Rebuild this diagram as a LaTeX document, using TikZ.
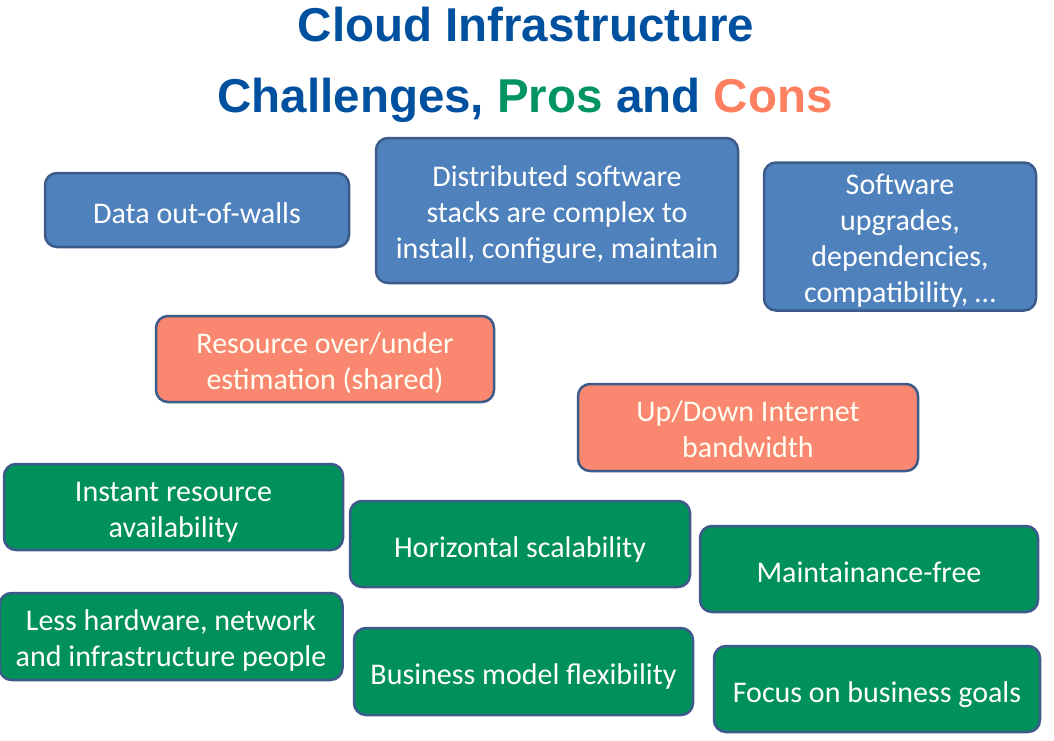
\documentclass[tikz,border=0pt]{standalone}
\usepackage{fontspec}
\setmainfont{Carlito}
\newfontfamily\titlefont{Liberation Sans}
\usetikzlibrary{
    shapes
  , positioning
}

\definecolor{boxBlue}{HTML}{4F81BD}
\definecolor{boxRed}{HTML}{FA8770}
\definecolor{boxGreen}{HTML}{00915B}
\definecolor{boxLine}{HTML}{3C5A8A}
\definecolor{titleBlue}{HTML}{0050A0}
\definecolor{titleGreen}{HTML}{009560}
\definecolor{titleRed}{HTML}{FF8060}

% struts that fix where the text sits in a card
\newcommand{\cardtop}[1][32]{\rule{0pt}{#1pt}}
\newcommand{\cardbot}{\rule[-8pt]{0pt}{8pt}}

\tikzset{
  card/.style={draw=boxLine, line width=2.5pt, rounded corners=12pt, rectangle,
    text=white, align=center, inner sep=0pt,
    font=\fontsize{30}{36}\selectfont},
  challenge/.style={card, fill=boxBlue},
  con/.style={card, fill=boxRed, text=white!95!yellow},
  pro/.style={card, fill=boxGreen},
  heading/.style={anchor=base, font=\titlefont\bfseries\fontsize{47.5}{55}\selectfont}
}

\begin{document}
\begin{tikzpicture}[x=1pt, y=-1pt]
  \useasboundingbox (0,0) rectangle (1054,741);
  % Title
  \node[heading, text=titleBlue] (title) at (526,42) {Cloud Infrastructure};
  \node[heading] (subtitle) at (525,113) {\textcolor{titleBlue}{Challenges,} \textcolor{titleGreen}{Pros} \textcolor{titleBlue}{and} \textcolor{titleRed}{Cons}};
  % Challenges
  \node[challenge, minimum width=304pt, minimum height=74pt] (data) at (197,210) {\cardtop[34]Data out-of-walls\cardbot};
  \node[challenge, minimum width=362pt, minimum height=145pt] (stacks) at (557,210.5) {\cardtop Distributed software\\stacks are complex to\\install, configure, maintain\cardbot};
  \node[challenge, minimum width=272pt, minimum height=143pt] (upgrades) at (900,236.5) {\cardtop Software\\upgrades,\\dependencies,\\compatibility, \dots\cardbot};
  % Cons
  \node[con, minimum width=338pt, minimum height=86pt] (estimation) at (325,359) {\cardtop Resource over/under\\estimation (shared)\cardbot};
  \node[con, minimum width=340pt, minimum height=87pt] (bandwidth) at (748,427.5) {\cardtop Up/Down Internet\\bandwidth\cardbot};
  % Pros
  \node[pro, minimum width=339pt, minimum height=86pt] (instant) at (173.5,507) {\cardtop Instant resource\\availability\cardbot};
  \node[pro, minimum width=340pt, minimum height=86pt] (horizontal) at (520,544) {\cardtop[34]Horizontal scalability\cardbot};
  \node[pro, minimum width=338pt, minimum height=86pt] (maintenance) at (869,569) {\cardtop[34]Maintainance-free\cardbot};
  \node[pro, minimum width=343pt, minimum height=87pt] (people) at (171,636.5) {\cardtop Less hardware, network\\and infrastructure people\cardbot};
  \node[pro, minimum width=339pt, minimum height=87pt] (business) at (523.5,671.5) {\cardtop[34]Business model flexibility\cardbot};
  \node[pro, minimum width=326pt, minimum height=86pt] (goals) at (877,689) {\cardtop[34]Focus on business goals\cardbot};
\end{tikzpicture}
\end{document}
